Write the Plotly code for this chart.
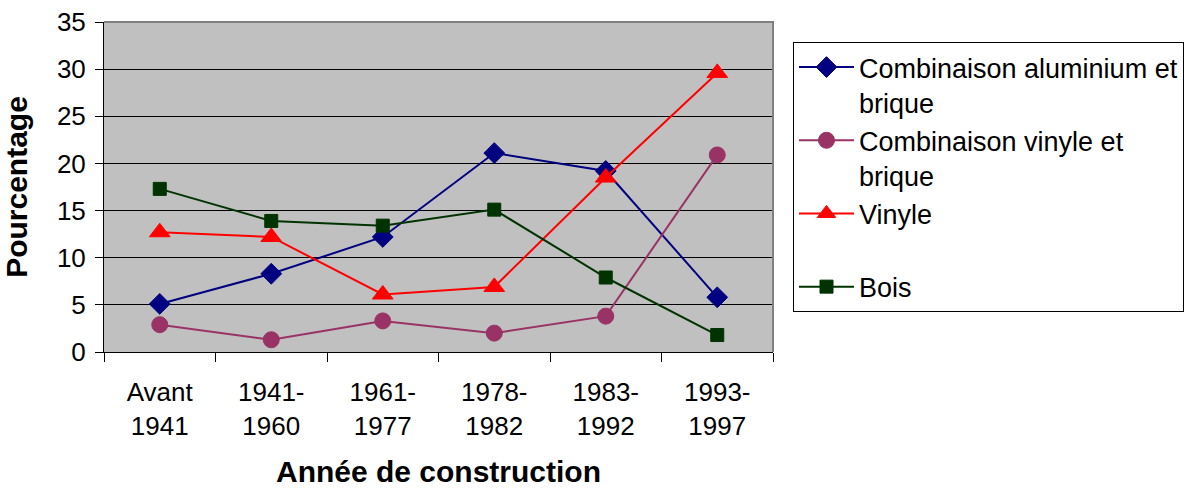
import plotly.graph_objects as go

categories = ["Avant<br>1941", "1941-<br>1960", "1961-<br>1977", "1978-<br>1982", "1983-<br>1992", "1993-<br>1997"]
alu_brique = [5.1, 8.3, 12.2, 21.1, 19.2, 5.8]
vinyle_brique = [2.9, 1.3, 3.3, 2.0, 3.8, 20.9]
vinyle = [12.7, 12.2, 6.1, 6.9, 18.5, 29.6]
bois = [17.3, 13.9, 13.4, 15.1, 7.9, 1.8]
y_ticks = [0, 5, 10, 15, 20, 25, 30, 35]

FONT = "Liberation Sans, Arial, sans-serif"

fig = go.Figure()
series = [
    ("Combinaison aluminium et<br>brique", alu_brique, "#000080", "diamond", 16),
    ("Combinaison vinyle et<br>brique", vinyle_brique, "#993366", "circle", 16),
    ("Vinyle<br> ", vinyle, "#FF0000", "triangle-up", 18),
    ("Bois", bois, "#003300", "square", 13),
]
for name, vals, col, sym, sz in series:
    fig.add_trace(go.Scatter(
        x=categories, y=vals, name=name, mode="lines+markers",
        line=dict(color=col, width=2),
        marker=dict(color=col, symbol=sym, size=sz, line=dict(color=col, width=1)),
    ))

fig.update_layout(
    width=1193, height=489,
    margin=dict(l=104, r=420, t=22, b=137, autoexpand=False),
    paper_bgcolor="white", plot_bgcolor="#C0C0C0",
    font=dict(family=FONT, size=26, color="black"),
    showlegend=True,
    legend=dict(
        xref="container", yref="container",
        x=793 / 1193, y=1 - 42 / 489, xanchor="left", yanchor="top",
        bordercolor="black", borderwidth=1, bgcolor="white",
        font=dict(family=FONT, size=27, color="black"),
        itemwidth=55, valign="top", tracegroupgap=0,
        maxheight=420,
    ),
)
fig.update_xaxes(
    type="category", range=[-0.5, 5.5], automargin=False,
    showline=True, linecolor="black", linewidth=1,
    ticks="outside", tickson="boundaries", ticklen=9, tickcolor="black",
    ticklabelstandoff=17,
    showgrid=False,
    tickfont=dict(family=FONT, size=26),
    title=dict(text="<b>Année de construction</b>", font=dict(family=FONT, size=30), standoff=20),
)
fig.update_yaxes(
    range=[0, 35], tickvals=y_ticks, automargin=False,
    showline=True, linecolor="black", linewidth=1,
    ticks="outside", ticklen=8, tickcolor="black",
    ticklabelstandoff=4,
    showgrid=True, gridcolor="black", gridwidth=1,
    zeroline=False,
    tickfont=dict(family=FONT, size=26),
    title=dict(text="<b>Pourcentage</b>", font=dict(family=FONT, size=30), standoff=20),
)
fig.add_shape(type="path", xref="paper", yref="paper",
              path="M 0,1 L 1,1 L 1,0", line=dict(color="#808080", width=2), layer="above")

fig.write_html("out.html", config={"displayModeBar": False},
               post_script="document.body.style.margin='0';document.body.style.padding='0';")
